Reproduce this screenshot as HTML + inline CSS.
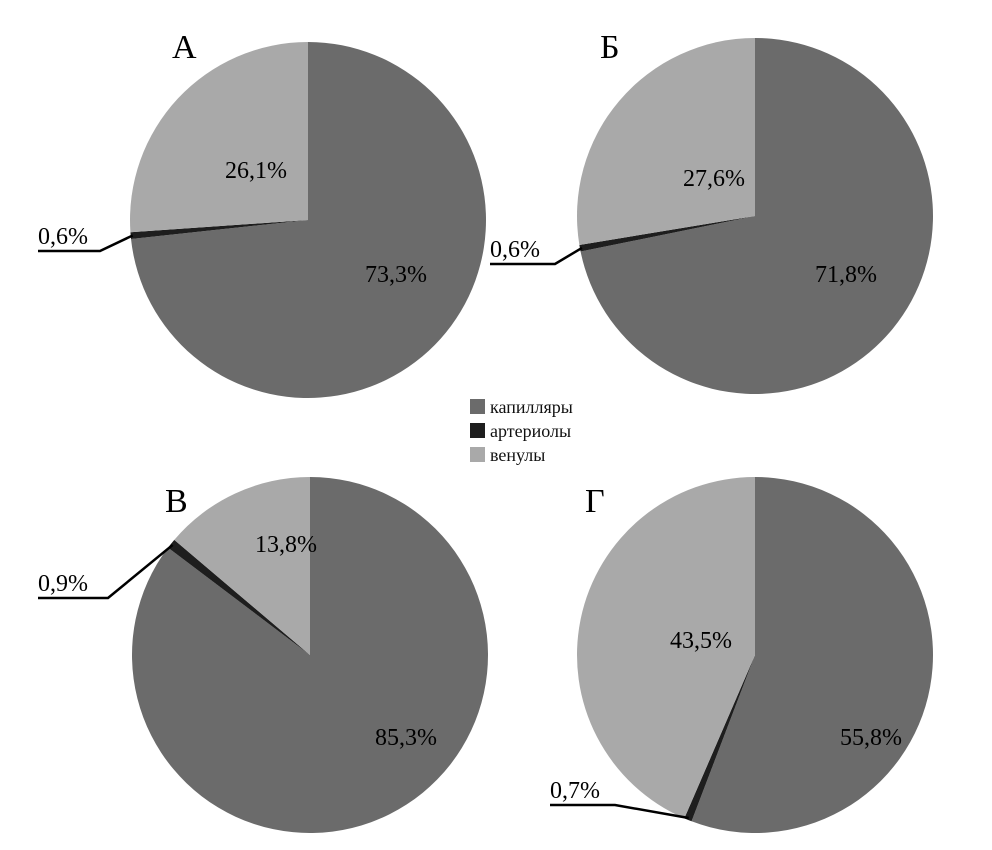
<!DOCTYPE html>
<html><head><meta charset="utf-8"><style>
body{margin:0;background:#fff;}
svg{display:block;font-family:"Liberation Serif",serif;}
</style></head><body>
<svg id="chart" width="992" height="850" viewBox="0 0 992 850">
<g id="pies"></g>
<g>
<rect x="470" y="399" width="15" height="15" fill="#6b6b6b"/>
<text x="490" y="413" font-size="18" fill="#111">капилляры</text>
<rect x="470" y="423" width="15" height="15" fill="#1e1e1e"/>
<text x="490" y="437" font-size="18" fill="#111">артериолы</text>
<rect x="470" y="447" width="15" height="15" fill="#a9a9a9"/>
<text x="490" y="461" font-size="18" fill="#111">венулы</text>
</g>
</svg>
<script>
const panelLetters = ["А","Б","В","Г"];
const capillaries = [73.3, 71.8, 85.3, 55.8];
const arterioles = [0.6, 0.6, 0.9, 0.7];
const venules = [26.1, 27.6, 13.8, 43.5];
const colors = ["#6b6b6b","#1e1e1e","#a9a9a9"];
const seriesNames = ["capillaries","arterioles","venules"];
const layout = [
 {cx:308,cy:220,r:178,lx:172,ly:58,cap:[365,282],ven:[225,178],lead:[[100,251],[38,251]],lab:[38,244]},
 {cx:755,cy:216,r:178,lx:600,ly:58,cap:[815,282],ven:[683,186],lead:[[555,264],[490,264]],lab:[490,257]},
 {cx:310,cy:655,r:178,lx:165,ly:512,cap:[375,745],ven:[255,552],lead:[[108,598],[38,598]],lab:[38,591]},
 {cx:755,cy:655,r:178,lx:585,ly:512,cap:[840,745],ven:[670,648],lead:[[615,805],[550,805]],lab:[550,798]}
];
const NS="http://www.w3.org/2000/svg";
const g=document.getElementById('pies');
function pt(L,frac,rr){const a=frac*2*Math.PI;return [L.cx+rr*Math.sin(a),L.cy-rr*Math.cos(a)];}
function fmt(v){return v.toFixed(1).replace('.',',')+'%';}
for(let i=0;i<4;i++){
 const L=layout[i];
 const vals=[capillaries[i],arterioles[i],venules[i]];
 const tot=vals.reduce((a,b)=>a+b,0);
 let acc=0;
 for(let k=0;k<3;k++){
  const f0=acc/tot, f1=(acc+vals[k])/tot; acc+=vals[k];
  const p0=pt(L,f0,L.r), p1=pt(L,f1,L.r);
  const large=(f1-f0)>0.5?1:0;
  const path=document.createElementNS(NS,'path');
  path.setAttribute('d',`M${L.cx},${L.cy}L${p0[0]},${p0[1]}A${L.r},${L.r} 0 ${large} 1 ${p1[0]},${p1[1]}Z`);
  path.setAttribute('fill',colors[k]);
  
  
  g.appendChild(path);
 }
 // leader line from arteriole slice midpoint
 const mid=(capillaries[i]+arterioles[i]/2)/tot;
 const e=pt(L,mid,L.r-2);
 const pl=document.createElementNS(NS,'polyline');
 pl.setAttribute('points',`${e[0]},${e[1]} ${L.lead[0][0]},${L.lead[0][1]} ${L.lead[1][0]},${L.lead[1][1]}`);
 pl.setAttribute('fill','none');pl.setAttribute('stroke','#000');pl.setAttribute('stroke-width','2.5');
 
 
 g.appendChild(pl);
 const texts=[[panelLetters[i],L.lx,L.ly,34,'panel-letter'],[fmt(capillaries[i]),L.cap[0],L.cap[1],24,'capillaries-label'],[fmt(venules[i]),L.ven[0],L.ven[1],24,'venules-label'],[fmt(arterioles[i]),L.lab[0],L.lab[1],24,'arterioles-label']];
 texts.forEach(t=>{
  const tx=document.createElementNS(NS,'text');
  tx.setAttribute('x',t[1]);tx.setAttribute('y',t[2]);tx.setAttribute('font-size',t[3]);
  tx.setAttribute('fill','#000');tx.textContent=t[0];
  
  
  g.appendChild(tx);
 });
}
</script>
</body></html>
